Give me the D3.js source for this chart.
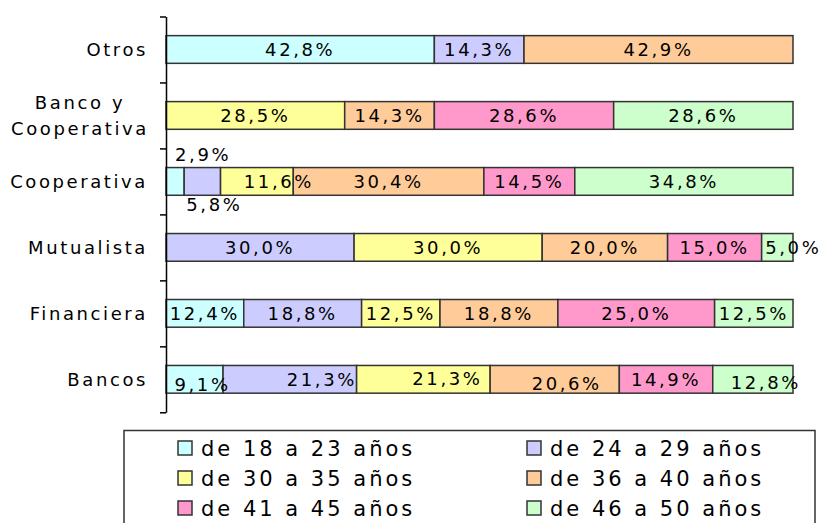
<!DOCTYPE html>
<html>
<head>
<meta charset="utf-8">
<script src="https://cdn.jsdelivr.net/npm/d3@7"></script>
<style>
  body { margin: 0; background: #fff; }
  text { font-family: "DejaVu Sans", Verdana, sans-serif; fill: #000; }
</style>
</head>
<body>
<div id="chart"></div>
<script>
// categories top to bottom
const categories = ["Otros", "Banco y Cooperativa", "Cooperativa", "Mutualista", "Financiera", "Bancos"];
const seriesNames = ["de 18 a 23 años", "de 24 a 29 años", "de 30 a 35 años",
                     "de 36 a 40 años", "de 41 a 45 años", "de 46 a 50 años"];
const seriesColors = ["#CCFFFF", "#CCCCFF", "#FFFF99", "#FFCC99", "#FF99CC", "#CCFFCC"];

// % per category, same order as categories
const age18to23 = [42.8, 0, 2.9, 0, 12.4, 9.1];
const age24to29 = [14.3, 0, 5.8, 30.0, 18.8, 21.3];
const age30to35 = [0, 28.5, 11.6, 30.0, 12.5, 21.3];
const age36to40 = [42.9, 14.3, 30.4, 20.0, 18.8, 20.6];
const age41to45 = [0, 28.6, 14.5, 15.0, 25.0, 14.9];
const age46to50 = [0, 28.6, 34.8, 5.0, 12.5, 12.8];

const allSeries = [age18to23, age24to29, age30to35, age36to40, age41to45, age46to50];

// labels that were moved by hand in the original
const labelNudge = {
    "Cooperativa|0": [28, -27],
    "Cooperativa|1": [12, 23],
    "Cooperativa|2": [22, 0],
    "Mutualista|5": [16, 0],
    "Bancos|0": [8, 5],
    "Bancos|1": [32, 0],
    "Bancos|2": [24, -1],
    "Bancos|3": [12, 4],
    "Bancos|5": [13, 3]
};

const width = 826, height = 523;

const svg = d3.select("#chart")
    .append("svg")
    .attr("width", width)
    .attr("height", height);

// build rows for the stack
const rows = categories.map((c, i) => {
    const r = { cat: c };
    seriesNames.forEach((s, j) => { r[s] = allSeries[j][i]; });
    return r;
});

const stacked = d3.stack().keys(seriesNames)(rows);

const x = d3.scaleLinear().domain([0, 100]).range([166, 793]);
const y = d3.scaleBand().domain(categories).range([16.5, 412.3]).padding(0);
const barH = y.bandwidth() * 0.42;

const fmt = v => v.toFixed(1).replace(".", ",") + "%";

// bars
const layers = svg.append("g")
    .selectAll("g")
    .data(stacked)
    .join("g")
    .attr("fill", (d, i) => seriesColors[i]);

layers.selectAll("rect")
    .data(d => d.filter(p => p[1] - p[0] > 0))
    .join("rect")
    .attr("x", d => x(d[0]))
    .attr("width", d => x(d[1]) - x(d[0]))
    .attr("y", d => y(d.data.cat) + y.bandwidth() / 2 - barH / 2)
    .attr("height", barH)
    .attr("stroke", "#333")
    .attr("stroke-width", 1.5);

// value labels
stacked.forEach((layer, i) => {
    layer.forEach(p => {
        const v = p[1] - p[0];
        if (v <= 0) return;
        const nudge = labelNudge[p.data.cat + "|" + i] || [0, 0];
        svg.append("text")
            .attr("x", (x(p[0]) + x(p[1])) / 2 + nudge[0])
            .attr("y", y(p.data.cat) + y.bandwidth() / 2 + 6.5 + nudge[1])
            .attr("text-anchor", "middle")
            .style("font-size", "18px")
            .style("letter-spacing", "2.6px")
            .text(fmt(v));
    });
});

// axis with ticks between the categories
const tickScale = d3.scaleLinear().domain([0, categories.length]).range(y.range());
svg.append("g")
    .attr("transform", "translate(166,0)")
    .call(d3.axisLeft(tickScale)
        .tickValues(d3.range(categories.length + 1))
        .tickFormat("")
        .tickSize(6)
        .tickSizeOuter(0))
    .call(g => g.selectAll("line, path").attr("stroke", "#000").attr("stroke-width", 1.5));

// category labels
categories.forEach(c => {
    const cy = y(c) + y.bandwidth() / 2;
    const t = svg.append("text")
        .style("font-size", "18px")
        .style("letter-spacing", "2.6px");
    if (c === "Banco y Cooperativa") {
        t.attr("text-anchor", "middle");
        t.append("tspan").attr("x", 80).attr("y", cy - 6.5).text("Banco y");
        t.append("tspan").attr("x", 80).attr("y", cy + 19.5).text("Cooperativa");
    } else {
        t.attr("text-anchor", "end").attr("x", 148).attr("y", cy + 6.5).text(c);
    }
});

// legend
const legend = svg.append("g");
legend.append("rect")
    .attr("x", 124).attr("y", 430.5)
    .attr("width", 691).attr("height", 120)
    .attr("fill", "none")
    .attr("stroke", "#333")
    .attr("stroke-width", 1.5);

seriesNames.forEach((s, i) => {
    const col = i % 2, row = Math.floor(i / 2);
    const lx = col === 0 ? 178 : 527;
    const ly = 448 + row * 30;
    legend.append("rect")
        .attr("x", lx).attr("y", ly - 7)
        .attr("width", 14).attr("height", 14)
        .attr("fill", seriesColors[i])
        .attr("stroke", "#333")
        .attr("stroke-width", 1.5);
    legend.append("text")
        .attr("x", lx + 23)
        .attr("y", ly + 8)
        .style("font-size", "21px")
        .style("letter-spacing", "3px")
        .text(s);
});
</script>
</body>
</html>
